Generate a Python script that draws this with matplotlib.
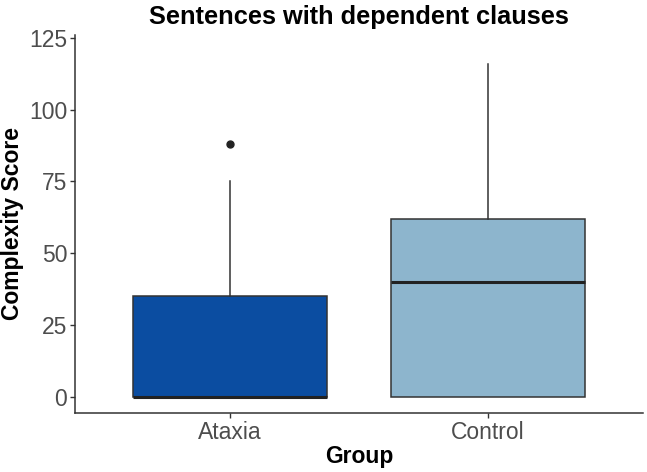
import matplotlib
matplotlib.use("Agg")
import matplotlib.pyplot as plt

plt.rcParams['font.family'] = ['Liberation Sans', 'DejaVu Sans']

groups = ["Ataxia", "Control"]
q1 = [0, 0]
medians = [0, 40]
q3 = [35, 62]
whisker_low = [0, 0]
whisker_high = [75, 116]
outliers = [[88], []]
fill_colors = ["#0B4DA1", "#8DB5CD"]

stats = []
for i, g in enumerate(groups):
    stats.append(dict(label=g, q1=q1[i], med=medians[i], q3=q3[i],
                      whislo=whisker_low[i], whishi=whisker_high[i],
                      fliers=outliers[i]))

fig = plt.figure(figsize=(6.47, 4.72), dpi=100)
ax = fig.add_axes([75/647, 1-413/472, (643-75)/647, (413-35)/472])

bp = ax.bxp(stats, positions=[1, 2], widths=0.75, patch_artist=True,
            showcaps=False,
            boxprops=dict(edgecolor="#333333", linewidth=1.1),
            whiskerprops=dict(color="#333333", linewidth=1.1),
            medianprops=dict(color="#222222", linewidth=2.2),
            flierprops=dict(marker="o", markerfacecolor="#222222",
                            markeredgecolor="#222222", markersize=5))
for patch, c in zip(bp['boxes'], fill_colors):
    patch.set_facecolor(c)

ax.set_xlim(0.4, 2.6)
ax.set_ylim(-5.6, 126)
ax.set_yticks([0, 25, 50, 75, 100, 125])
ax.set_xticks([1, 2])
ax.set_xticklabels(groups)

for s in ["top", "right"]:
    ax.spines[s].set_visible(False)
for s in ["left", "bottom"]:
    ax.spines[s].set_color("#333333")
    ax.spines[s].set_linewidth(1.1)
ax.tick_params(axis="both", colors="#333333", labelcolor="#4D4D4D",
               labelsize=16.5, length=3.5, width=1, pad=2)

ax.set_title("Sentences with dependent clauses", fontsize=18.3,
             fontweight="bold", pad=8)
ax.set_xlabel("Group", fontsize=16.5, fontweight="bold", labelpad=1)
ax.set_ylabel("Complexity Score", fontsize=16.5, fontweight="bold", labelpad=4)

fig.savefig("out.png", dpi=100)
